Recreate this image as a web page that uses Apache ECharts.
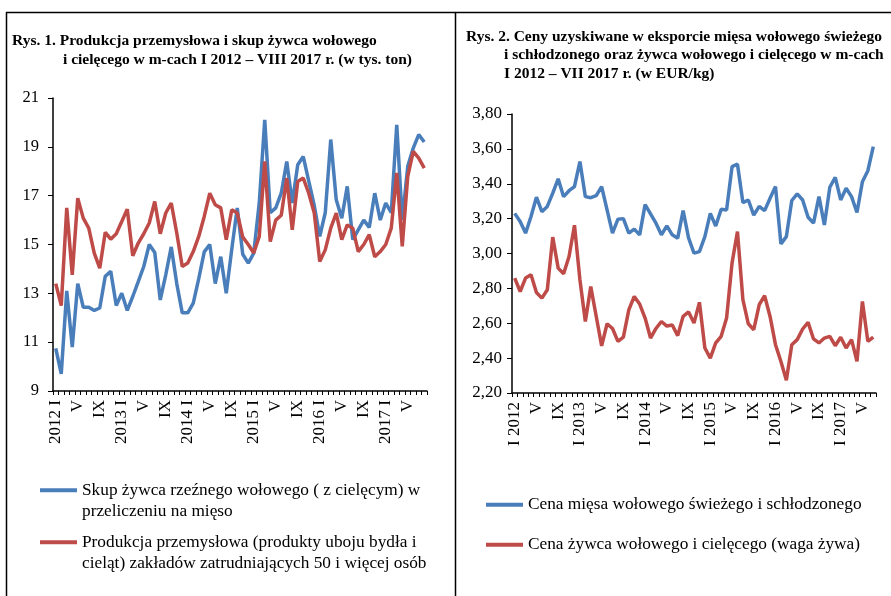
<!DOCTYPE html>
<html><head><meta charset="utf-8">
<script src="https://cdn.jsdelivr.net/npm/echarts@6/dist/echarts.min.js"></script>
<style>html,body{margin:0;padding:0;background:#fff}#c{width:891px;height:596px}</style>
</head><body><div id="c"></div>
<script>
const romans = ['I','II','III','IV','V','VI','VII','VIII','IX','X','XI','XII'];
const years = [2012,2013,2014,2015,2016,2017];
// Rys. 1 (I 2012 – VIII 2017), tys. ton
const skupZywca = [10.75,9.7,13.1,10.8,13.4,12.43,12.43,12.3,12.4,13.7,
 13.9,12.5,13.0,12.3,12.87,13.48,14.1,15.0,14.67,12.73,
 13.76,14.9,13.4,12.2,12.2,12.6,13.6,14.7,15.0,13.4,
 14.5,13.0,14.8,16.5,14.6,14.24,14.65,16.7,20.1,16.3,
 16.5,17.1,18.4,16.7,18.27,18.6,17.6,16.6,15.33,16.3,
 19.3,16.83,16.08,17.38,15.2,15.6,16.0,15.7,17.1,16.0,
 16.7,16.3,19.9,16.0,18.2,18.95,19.5,19.2];
const produkcja = [13.4,12.5,16.5,13.76,16.9,16.08,15.67,14.65,14.03,15.5,
 15.22,15.44,15.94,16.45,14.54,15.06,15.44,15.88,16.76,15.44,
 16.29,16.7,15.47,14.1,14.24,14.71,15.33,16.15,17.1,16.63,
 16.5,15.2,16.42,16.29,15.3,15.0,14.65,15.33,18.4,15.12,
 16.0,16.2,17.72,15.6,17.58,17.72,17.1,16.29,14.3,14.78,
 15.67,16.29,15.2,15.8,15.67,14.71,15.0,15.4,14.5,14.71,
 15.0,15.67,17.93,14.92,17.79,18.81,18.54,18.13];
// Rys. 2 (I 2012 – VII 2017), EUR/kg
const cenaMiesa = [3.23,3.183,3.117,3.212,3.323,3.24,3.27,3.346,3.428,3.326,
 3.36,3.384,3.527,3.326,3.32,3.332,3.384,3.25,3.117,3.197,
 3.2,3.117,3.14,3.107,3.28,3.227,3.174,3.107,3.158,3.107,
 3.088,3.246,3.09,3.002,3.011,3.097,3.23,3.158,3.254,3.25,
 3.498,3.512,3.292,3.307,3.22,3.27,3.246,3.317,3.384,3.055,
 3.097,3.304,3.342,3.307,3.208,3.174,3.326,3.164,3.38,3.437,
 3.307,3.374,3.326,3.235,3.412,3.475,3.613];
const cenaZywca = [2.859,2.782,2.859,2.878,2.776,2.744,2.792,3.094,2.916,2.884,
 2.983,3.162,2.85,2.61,2.81,2.64,2.47,2.597,2.57,2.496,
 2.52,2.677,2.754,2.71,2.63,2.515,2.57,2.61,2.584,2.59,
 2.529,2.64,2.665,2.601,2.72,2.458,2.4,2.487,2.525,2.63,
 2.945,3.126,2.735,2.597,2.563,2.706,2.758,2.639,2.477,2.381,
 2.273,2.477,2.506,2.567,2.605,2.51,2.487,2.515,2.525,2.471,
 2.52,2.458,2.506,2.381,2.725,2.496,2.521];

const catsL = [], catsR = [];
years.forEach(y => romans.forEach((r, m) => {
  catsL.push(m === 0 ? y + ' ' + r : r);
  catsR.push(m === 0 ? r + ' ' + y : r);
}));
const catL = catsL.slice(0, skupZywca.length);
const catR = catsR.slice(0, cenaMiesa.length);

const names = {
  s1: '\nSkup żywca rzeźnego wołowego ( z cielęcym) w\nprzeliczeniu na mięso',
  s2: '\nProdukcja przemysłowa (produkty uboju bydła i\ncieląt) zakładów zatrudniających 50 i więcej osób',
  s3: 'Cena mięsa wołowego świeżego i schłodzonego',
  s4: 'Cena żywca wołowego i cielęcego (waga żywa)'
};
const BLUE = '#4A7EBB', RED = '#BE4B48';
const FONT = '"Liberation Serif","Times New Roman",serif';
const axisCommonY = {
  axisLine: {show: true, lineStyle: {color: '#000', width: 1.5}},
  axisTick: {show: true, length: 5, lineStyle: {color: '#000', width: 1}},
  splitLine: {show: false},
  axisLabel: {color: '#000', fontFamily: FONT, fontSize: 16}
};
const axisCommonX = {
  type: 'category', boundaryGap: true,
  axisLine: {lineStyle: {color: '#000', width: 1.5}},
  axisTick: {show: true, interval: 0, length: 4, lineStyle: {color: '#000'}},
  axisLabel: {color: '#000', fontFamily: FONT, fontSize: 17, rotate: 90, interval: 3, margin: 9}
};
const titleStyle = {color: '#000', fontFamily: FONT, fontSize: 15.5, fontWeight: 'bold'};
const legendText = {color: '#000', fontFamily: FONT, fontSize: 17.3, lineHeight: 21.5};
const legendCommon = {
  orient: 'vertical', icon: 'rect', itemWidth: 37, itemHeight: 4, selectedMode: false, padding: 0,
  formatter: n => names[n], textStyle: legendText
};

const chart = echarts.init(document.getElementById('c'), null, {renderer: 'canvas'});
chart.setOption({
  backgroundColor: '#fff',
  animation: false,
  title: [
    {text: 'Rys. 1. Produkcja przemysłowa i skup żywca wołowego', left: 12, top: 33, padding: 0, textStyle: titleStyle},
    {text: 'i cielęcego w m-cach I 2012 – VIII 2017 r. (w tys. ton)', left: 63, top: 52, padding: 0, textStyle: titleStyle},
    {text: 'Rys. 2. Ceny uzyskiwane w eksporcie mięsa wołowego świeżego', left: 466, top: 29, padding: 0, textStyle: titleStyle},
    {text: 'i schłodzonego oraz żywca wołowego i cielęcego w m-cach', left: 504, top: 47, padding: 0, textStyle: titleStyle},
    {text: 'I 2012 – VII 2017 r. (w EUR/kg)', left: 504, top: 66, padding: 0, textStyle: titleStyle}
  ],
  legend: [
    Object.assign({}, legendCommon, {data: ['s1'], left: 40, top: 458}),
    Object.assign({}, legendCommon, {data: ['s2'], left: 40, top: 510}),
    Object.assign({}, legendCommon, {data: ['s3'], left: 486, top: 494}),
    Object.assign({}, legendCommon, {data: ['s4'], left: 486, top: 534})
  ],
  grid: [
    {left: 53, top: 98, width: 374, height: 293, containLabel: false},
    {left: 512, top: 114, width: 364, height: 279, containLabel: false}
  ],
  xAxis: [
    Object.assign({}, axisCommonX, {gridIndex: 0, data: catL}),
    Object.assign({}, axisCommonX, {gridIndex: 1, data: catR})
  ],
  yAxis: [
    Object.assign({}, axisCommonY, {gridIndex: 0, type: 'value', min: 9, max: 21, interval: 2,
      axisLabel: Object.assign({}, axisCommonY.axisLabel, {margin: 14, fontSize: 16.5})}),
    Object.assign({}, axisCommonY, {gridIndex: 1, type: 'value', min: 2.2, max: 3.8, interval: 0.2,
      axisLabel: Object.assign({}, axisCommonY.axisLabel, {margin: 10, fontSize: 17,
        formatter: v => v.toFixed(2).replace('.', ',')})})
  ],
  series: [
    {name: 's1', type: 'line', xAxisIndex: 0, yAxisIndex: 0, data: skupZywca, showSymbol: false, symbol: 'none',
      lineStyle: {color: BLUE, width: 3.5}, itemStyle: {color: BLUE}},
    {name: 's2', type: 'line', xAxisIndex: 0, yAxisIndex: 0, data: produkcja, showSymbol: false, symbol: 'none',
      lineStyle: {color: RED, width: 3.5}, itemStyle: {color: RED}},
    {name: 's3', type: 'line', xAxisIndex: 1, yAxisIndex: 1, data: cenaMiesa, showSymbol: false, symbol: 'none',
      lineStyle: {color: BLUE, width: 3.5}, itemStyle: {color: BLUE}},
    {name: 's4', type: 'line', xAxisIndex: 1, yAxisIndex: 1, data: cenaZywca, showSymbol: false, symbol: 'none',
      lineStyle: {color: RED, width: 3.5}, itemStyle: {color: RED}}
  ],
  graphic: [
    {type: 'line', shape: {x1: 6, y1: 12.5, x2: 891, y2: 12.5}, style: {stroke: '#000', lineWidth: 1.5}},
    {type: 'line', shape: {x1: 6.5, y1: 12, x2: 6.5, y2: 596}, style: {stroke: '#000', lineWidth: 1.5}},
    {type: 'line', shape: {x1: 455.5, y1: 12, x2: 455.5, y2: 596}, style: {stroke: '#000', lineWidth: 1.5}}
  ]
});
</script></body></html>
